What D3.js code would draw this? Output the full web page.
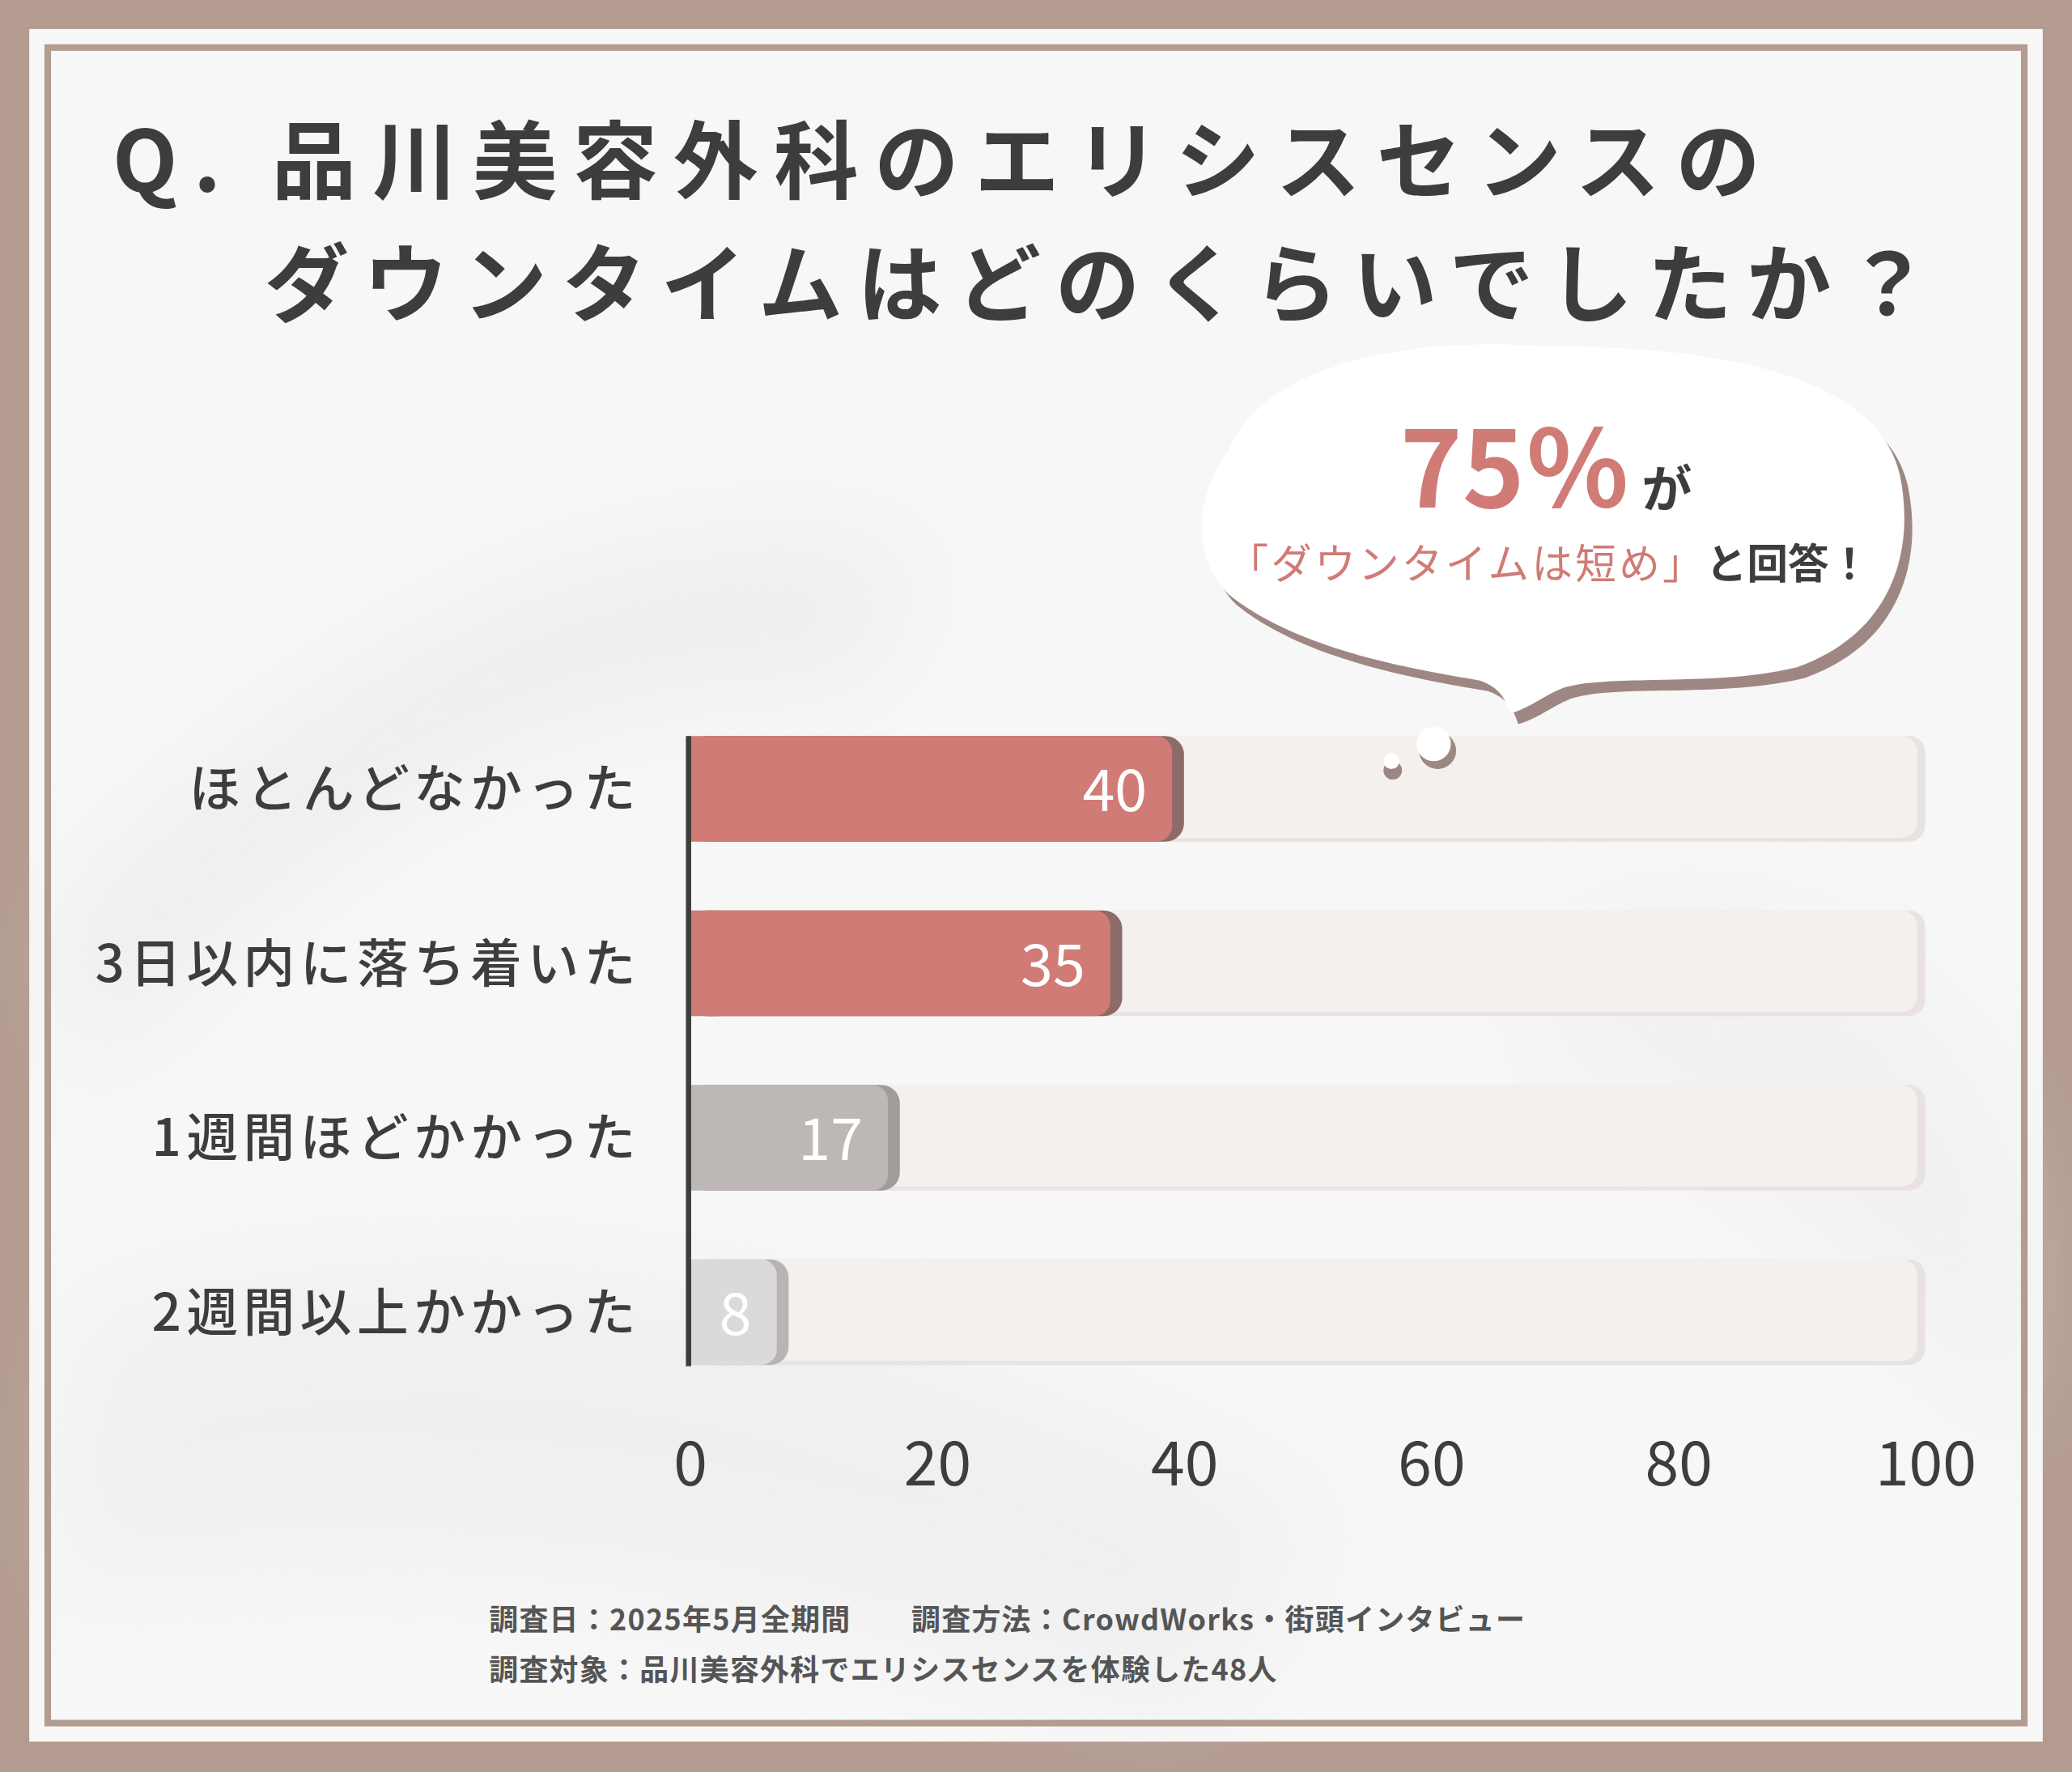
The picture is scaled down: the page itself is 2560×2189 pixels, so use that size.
<!DOCTYPE html>
<html><head><meta charset="utf-8">
<script src="https://cdn.jsdelivr.net/npm/d3@7"></script>
<style>body{margin:0;background:#b39b90}svg{display:block}</style>
</head><body>
<script>
// data
const categories = ["ほとんどなかった", "3日以内に落ち着いた", "1週間ほどかかった", "2週間以上かかった"];
const values = [40, 35, 17, 8];
const barColors = ["#d07b75", "#d07b75", "#bdb8b6", "#dcd9d9"];
const edgeColors = ["#8d6b68", "#8d6b68", "#a09c9b", "#b8b4b4"];
const ticks = [0, 20, 40, 60, 80, 100];
const titleLines = ["Q. 品川美容外科のエリシスセンスの", "ダウンタイムはどのくらいでしたか？"];
const notes = ["調査日：2025年5月全期間　　調査方法：CrowdWorks・街頭インタビュー", "調査対象：品川美容外科でエリシスセンスを体験した48人"];

const font = "'Noto Sans CJK JP', 'Noto Sans', sans-serif";
const svg = d3.select("body").append("svg")
  .attr("width", 2560).attr("height", 2189)
  .attr("viewBox", "0 0 1568 1341");

// frame
svg.append("rect").attr("width", 1568).attr("height", 1341).attr("fill", "#b39b90");
svg.append("rect").attr("x", 22).attr("y", 22).attr("width", 1524).attr("height", 1296).attr("fill", "#f7f7f7");
const defs = svg.append("defs");
const blur = defs.append("filter").attr("id", "blur").attr("x", "-50%").attr("y", "-50%").attr("width", "200%").attr("height", "200%");
blur.append("feGaussianBlur").attr("stdDeviation", 40);
// soft background shadows
const bg = svg.append("g").attr("filter", "url(#blur)").attr("opacity", 0.35);
bg.append("path").attr("d", "M40,700 C300,450 500,380 700,420 L650,520 C450,500 250,600 60,820 Z").attr("fill", "#dcdcdc");
bg.append("path").attr("d", "M60,1000 C400,900 700,1000 1000,1150 L900,1300 C600,1200 300,1150 40,1200 Z").attr("fill", "#e2e2e2");
bg.append("path").attr("d", "M1200,700 C1400,650 1500,800 1540,900 L1540,1100 C1400,950 1300,850 1150,800 Z").attr("fill", "#e6e6e6");
svg.append("rect").attr("x", 36).attr("y", 36).attr("width", 1496).attr("height", 1268)
  .attr("fill", "none").attr("stroke", "#b39b90").attr("stroke-width", 5);

// title
svg.append("text").attr("x", 85).attr("y", 145).text(titleLines[0])
  .attr("font-family", font).attr("font-weight", 700).attr("font-size", 64).attr("fill", "#3d3d3d").attr("letter-spacing", 12);
svg.append("text").attr("x", 200).attr("y", 238).text(titleLines[1])
  .attr("font-family", font).attr("font-weight", 700).attr("font-size", 64).attr("fill", "#3d3d3d").attr("letter-spacing", 11);

// scales
const x = d3.scaleLinear().domain([0, 100]).range([522, 1457]);
const y = d3.scaleBand().domain(categories).range([557, 1033]).paddingInner(0.394).paddingOuter(0);
const bh = y.bandwidth();
const yc = c => y(c) + bh / 2;

// tracks
const g = svg.append("g");
categories.forEach(c => {
  g.append("rect").attr("x", x(0)).attr("y", y(c)).attr("width", x(100) - x(0)).attr("height", bh)
    .attr("rx", 12).attr("fill", "#e8e3e1");
  g.append("rect").attr("x", x(0)).attr("y", y(c)).attr("width", x(100) - x(0) - 6).attr("height", bh - 3)
    .attr("rx", 12).attr("fill", "#f4f0ee");
});
// bars
categories.forEach((c, i) => {
  const w = x(values[i]) - x(0);
  g.append("rect").attr("x", x(0)).attr("y", y(c)).attr("width", w).attr("height", bh)
    .attr("rx", 14).attr("fill", edgeColors[i]);
  g.append("rect").attr("x", x(0)).attr("y", y(c)).attr("width", w - 9).attr("height", bh)
    .attr("rx", 12).attr("fill", barColors[i]);
  g.append("rect").attr("x", x(0)).attr("y", y(c)).attr("width", 20).attr("height", bh).attr("fill", barColors[i]);
  g.append("text").attr("x", x(values[i]) - 28).attr("y", yc(c) + 17).attr("text-anchor", "end")
    .attr("font-family", font).attr("font-size", 44).attr("fill", "#fff").text(values[i]);
  g.append("text").attr("x", 485).attr("y", yc(c) + 14).attr("text-anchor", "end")
    .attr("font-family", font).attr("font-weight", 500).attr("font-size", 39).attr("letter-spacing", 4)
    .attr("fill", "#3d3d3d").text(c);
});
// axis
const axis = svg.append("g").attr("transform", "translate(0,1108)")
  .call(d3.axisBottom(x).tickValues(ticks).tickSize(0).tickPadding(0));
axis.select(".domain").remove();
axis.selectAll("text").attr("font-family", font).attr("font-size", 46).attr("fill", "#3d3d3d").attr("dy", "0.35em");
svg.append("line").attr("x1", 521).attr("x2", 521).attr("y1", 557).attr("y2", 1034)
  .attr("stroke", "#3d3d3d").attr("stroke-width", 4);

// speech bubble
const bubble = "M930,340 C960,270 1080,255 1170,262 C1290,262 1420,280 1438,360 C1450,420 1430,480 1360,505 C1300,520 1220,510 1185,520 C1170,525 1160,535 1143,540 C1140,530 1135,520 1120,515 C1060,505 980,490 930,450 C900,420 905,375 930,340 Z";
svg.append("path").attr("d", bubble).attr("fill", "#9e8783").attr("transform", "translate(6,8)");
svg.append("path").attr("d", bubble).attr("fill", "#fff");
svg.append("circle").attr("cx", 1088).attr("cy", 568).attr("r", 14).attr("fill", "#9e8783");
svg.append("circle").attr("cx", 1085).attr("cy", 563).attr("r", 13).attr("fill", "#fff");
svg.append("circle").attr("cx", 1054).attr("cy", 583).attr("r", 7).attr("fill", "#9e8783");
svg.append("circle").attr("cx", 1053).attr("cy", 576).attr("r", 6).attr("fill", "#fff");
const t1 = svg.append("text").attr("x", 1170).attr("y", 384).attr("text-anchor", "middle").attr("font-family", font);
t1.append("tspan").text("75％").attr("font-size", 80).attr("font-weight", 700).attr("fill", "#d07b75");
t1.append("tspan").text(" が").attr("font-size", 38).attr("font-weight", 700).attr("fill", "#3d3d3d");
const t2 = svg.append("text").attr("x", 1172).attr("y", 438).attr("text-anchor", "middle").attr("font-family", font).attr("font-size", 31);
t2.append("tspan").text("「ダウンタイムは短め」").attr("fill", "#d07b75").attr("letter-spacing", 2);
t2.append("tspan").text("と回答！").attr("fill", "#3d3d3d").attr("font-weight", 700);

// notes
notes.forEach((n, i) => {
  svg.append("text").attr("x", 370).attr("y", 1234 + i * 38).text(n)
    .attr("font-family", font).attr("font-weight", 700).attr("font-size", 22).attr("letter-spacing", 0.8)
    .attr("fill", "#555");
});
</script>
</body></html>
